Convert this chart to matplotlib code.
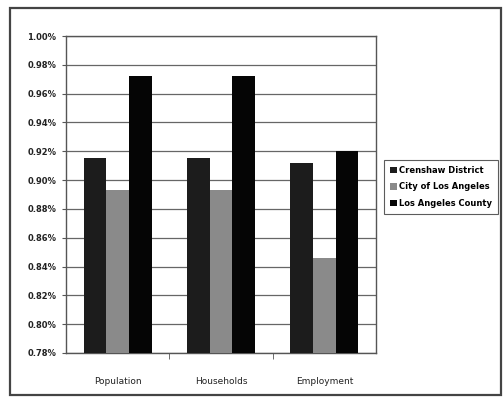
import matplotlib.pyplot as plt
from matplotlib.patches import Rectangle
import numpy as np

# data (share, in percent)
categories = ['Population', 'Households', 'Employment']
series_names = ['Crenshaw District', 'City of Los Angeles', 'Los Angeles County']
district = [0.915, 0.915, 0.912]
city = [0.893, 0.893, 0.846]
county = [0.972, 0.972, 0.920]
y_ticks = [0.78, 0.80, 0.82, 0.84, 0.86, 0.88, 0.90, 0.92, 0.94, 0.96, 0.98, 1.00]

colors = ['#1c1c1c', '#8a8a8a', '#050505']

fig = plt.figure(figsize=(5.04, 4.08), dpi=100)
fig.patch.set_facecolor('white')

# outer chart frame
fig.patches.append(Rectangle((10 / 504, 13 / 408), 491 / 504, 387 / 408,
                             transform=fig.transFigure, fill=False,
                             edgecolor='#444444', linewidth=1.6))

ax = fig.add_axes([66 / 504, 55 / 408, 310 / 504, 317 / 408])

x = np.arange(len(categories))
w = 0.22
base = y_ticks[0]
for i, (vals, name) in enumerate(zip([district, city, county], series_names)):
    ax.bar(x + (i - 1) * w, np.array(vals) - base, bottom=base, width=w,
           color=colors[i], label=name, zorder=3)

ax.set_ylim(y_ticks[0], y_ticks[-1])
ax.set_xlim(-0.5, len(categories) - 0.5)
ax.set_yticks(y_ticks)
ax.set_yticklabels([f'{v:.2f}%' for v in y_ticks], fontsize=6, fontweight='bold', color='#222222')
ax.set_xticks(x)
ax.set_xticklabels(categories, fontsize=6.5, color='#222222')
ax.set_xticks([0.5, 1.5], minor=True)
ax.tick_params(axis='x', which='major', length=0, pad=17)
ax.tick_params(axis='x', which='minor', length=4, direction='out', color='#555555')
ax.tick_params(axis='y', length=3, direction='out', color='#555555', pad=4)
ax.yaxis.grid(True, color='#666666', linewidth=0.9, zorder=0)
for s in ax.spines.values():
    s.set_color('#555555')
    s.set_linewidth(1.0)

leg = fig.legend(loc='upper left', bbox_to_anchor=(384 / 504, 1 - 160 / 408),
                 fontsize=6.0, frameon=True, fancybox=False, edgecolor='#333333',
                 handlelength=0.8, handleheight=0.8, handletextpad=0.3,
                 borderpad=0.7, labelspacing=0.9, borderaxespad=0)
leg.get_frame().set_linewidth(0.8)
for t in leg.get_texts():
    t.set_fontweight('bold')

plt.savefig('out.png', dpi=100)
